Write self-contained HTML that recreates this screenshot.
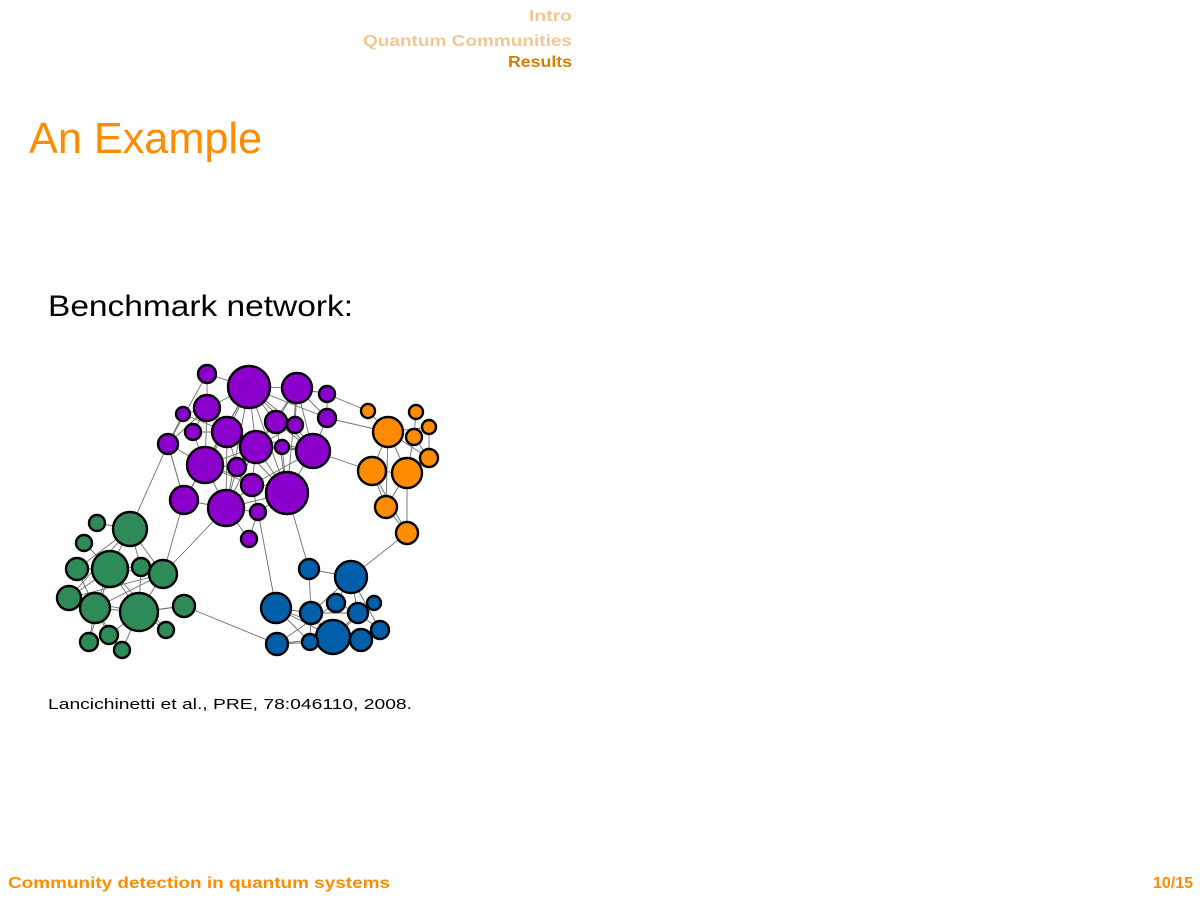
<!DOCTYPE html>
<html><head><meta charset="utf-8"><style>
html,body{margin:0;padding:0;background:#fff;}
svg{display:block;font-family:"Liberation Sans",sans-serif;}
</style></head><body>
<svg width="1200" height="900" viewBox="0 0 1200 900">
<g font-weight="bold" font-size="16">
<text x="529" y="21" fill="#f2c690" textLength="43" lengthAdjust="spacingAndGlyphs">Intro</text>
<text x="363" y="46" fill="#f2c690" textLength="209" lengthAdjust="spacingAndGlyphs">Quantum Communities</text>
<text x="508" y="67" fill="#d97c00" textLength="64" lengthAdjust="spacingAndGlyphs">Results</text>
</g>
<text x="29" y="153" font-size="44" fill="#ff8c00" textLength="233" lengthAdjust="spacingAndGlyphs">An Example</text>
<text x="48" y="316" font-size="30" fill="#000" textLength="305" lengthAdjust="spacingAndGlyphs">Benchmark network:</text>
<g id="net"></g>
<text x="48" y="709" font-size="14.5" fill="#000" textLength="364" lengthAdjust="spacingAndGlyphs">Lancichinetti et al., PRE, 78:046110, 2008.</text>
<text x="8" y="888" font-size="16" font-weight="bold" fill="#ff8c00" textLength="382" lengthAdjust="spacingAndGlyphs">Community detection in quantum systems</text>
<text x="1193" y="888" font-size="16" font-weight="bold" fill="#ff8c00" text-anchor="end">10/15</text>
</svg>
<script>
const nodeX=[207,249,297,327,207,183,193,227,276,295,327,256,282,313,168,205,237,252,287,184,226,258,249,
368,388,416,429,414,429,372,407,386,407,
97,130,84,77,110,141,163,69,95,139,184,166,89,109,122,
309,351,276,311,336,358,374,380,333,361,310,277];
const nodeY=[374,387,388,394,408,414,432,432,422,425,418,447,447,451,444,465,467,485,493,500,508,512,539,
411,432,412,427,437,458,471,473,507,533,
523,529,543,569,569,567,574,598,608,612,606,630,642,635,650,
569,577,608,613,603,613,603,630,637,640,642,644];
const nodeR=[9,21,15,8,13,7,8,15,11,8,9,16,7,17,10,18,9,11,21,14,18,8,8,
7,15,7,7,8,9,14,15,11,11,
8,17,8,11,18,9,14,12,15,19,11,8,9,9,8,
10,16,15,11,9,10,7,9,17,11,8,11];
const nodeGroup=[0,0,0,0,0,0,0,0,0,0,0,0,0,0,0,0,0,0,0,0,0,0,0,
1,1,1,1,1,1,1,1,1,1,
2,2,2,2,2,2,2,2,2,2,2,2,2,2,2,
3,3,3,3,3,3,3,3,3,3,3,3];
const groupColors=["#8b00cc","#ff8c00","#2e8b57","#005fa8"];
const edgeFrom=[0,0,0,1,1,1,1,1,1,1,1,1,1,2,2,2,2,2,2,3,4,4,4,4,4,5,5,6,6,7,7,7,7,7,7,8,8,8,9,9,10,11,11,11,11,11,11,12,13,13,13,13,14,14,15,15,15,15,15,16,17,17,18,18,18,19,19,20,20,21,1,2,1,4,
23,24,24,24,24,25,26,27,28,29,29,29,30,30,31,24,27,
33,34,34,34,34,34,35,36,36,37,37,37,37,37,37,38,38,39,39,39,40,40,41,41,41,42,42,42,43,44,45,46,41,37,
48,48,49,49,49,49,50,50,50,51,51,52,52,53,53,54,56,56,56,56,57,50,51,
14,19,20,21,18,13,10,3,32,43];
const edgeTo=[1,4,14,2,4,7,11,8,13,18,15,20,9,3,10,8,11,13,9,10,5,7,15,14,6,7,14,7,15,11,15,20,16,18,13,11,13,18,13,11,13,12,18,15,20,17,16,13,18,17,12,11,15,19,19,20,16,17,18,20,21,20,21,12,20,20,14,21,22,22,19,18,10,11,
24,29,30,26,28,27,28,28,30,30,31,32,31,32,32,31,30,
34,37,38,39,40,36,37,37,41,38,39,41,42,40,45,39,42,42,40,41,41,42,42,45,46,43,46,47,42,42,46,47,47,44,
49,51,51,52,55,53,56,57,51,56,53,53,59,55,56,56,59,58,57,55,59,58,58,
34,39,39,50,48,29,24,23,49,59];
const NS="http://www.w3.org/2000/svg";
const g=document.getElementById('net');
function px(i){return nodeX[i];}
function py(i){return nodeY[i];}
for(let k=0;k<edgeFrom.length;k++){
  const l=document.createElementNS(NS,'line');
  l.setAttribute('x1',px(edgeFrom[k]));l.setAttribute('y1',py(edgeFrom[k]));
  l.setAttribute('x2',px(edgeTo[k]));l.setAttribute('y2',py(edgeTo[k]));
  l.setAttribute('stroke','#707070');l.setAttribute('stroke-width','0.9');
  
  
  g.appendChild(l);
}
for(let i=0;i<nodeX.length;i++){
  const c=document.createElementNS(NS,'circle');
  c.setAttribute('cx',px(i));c.setAttribute('cy',py(i));c.setAttribute('r',nodeR[i]);
  c.setAttribute('fill',groupColors[nodeGroup[i]]);
  c.setAttribute('stroke','#000');c.setAttribute('stroke-width','2.4');
  
  
  g.appendChild(c);
}
</script>
</body></html>
